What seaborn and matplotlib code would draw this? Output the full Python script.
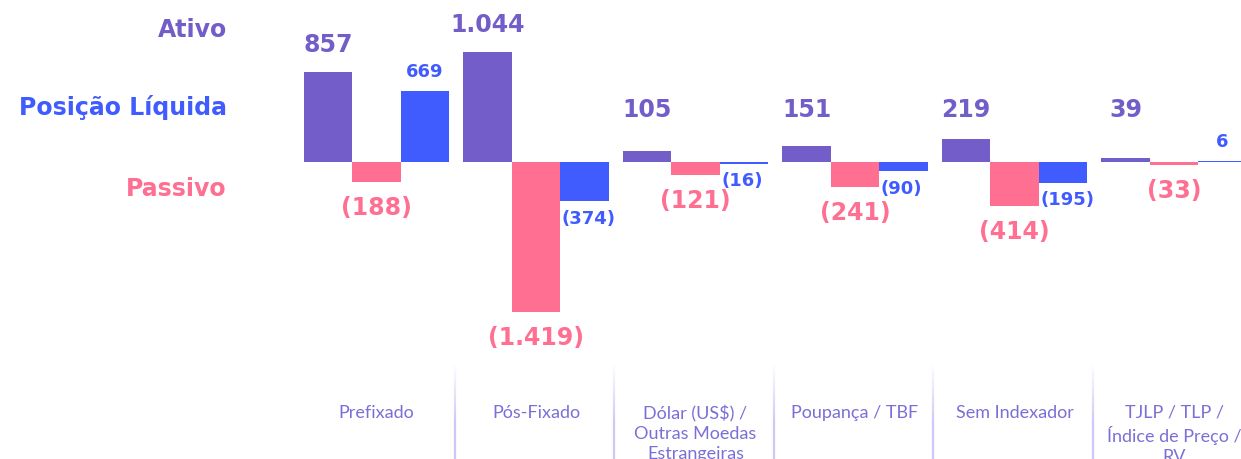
import pandas as pd
import numpy as np
import matplotlib.pyplot as plt
import seaborn as sns

categorias = ["Prefixado", "Pós-Fixado", "Dólar (US$) /\nOutras Moedas\nEstrangeiras",
              "Poupança / TBF", "Sem Indexador", "TJLP / TLP /\nÍndice de Preço /\nRV"]
ativo = [857, 1044, 105, 151, 219, 39]
passivo = [-188, -1419, -121, -241, -414, -33]
posicao = [669, -374, -16, -90, -195, 6]
series = ["Ativo", "Passivo", "Posição Líquida"]
cores = {"Ativo": "#735DC8", "Passivo": "#FF6F91", "Posição Líquida": "#405CFF"}

sns.set_style("white")
plt.rcParams['font.family'] = ['Lato', 'DejaVu Sans']
negrito = ['DejaVu Sans']

df = pd.DataFrame({
    "cat": list(range(6)) * 3,
    "serie": np.repeat(series, 6),
    "valor": ativo + passivo + posicao,
})

def fmt(v):
    s = f"{abs(v):,}".replace(",", ".")
    return f"({s})" if v < 0 else s

fig = plt.figure(figsize=(12.41, 4.59), dpi=100)
ax = fig.add_axes([0, 0, 1, 1])
sns.barplot(data=df, x="cat", y="valor", hue="serie", hue_order=series, palette=cores,
            width=0.91, saturation=1, legend=False, native_scale=True, linewidth=0, ax=ax)

px = 159.5
xmin = -376.5 / px
ax.set_xlim(xmin, xmin + 1241 / px)
k = 0.1055
ax.set_ylim(-(459 - 162) / k, 162 / k)
ax.axis("off")

# rotulos de valores
for j, cont in enumerate(ax.containers):
    for p, v in zip(cont.patches, [ativo, passivo, posicao][j]):
        xc = p.get_x() + p.get_width() / 2
        cor = cores[series[j]]
        if j == 0:
            ax.annotate(fmt(v), (xc, max(v, 237)), xytext=(0, 19.5), textcoords="offset points",
                        ha="center", va="center", fontsize=17, fontweight="bold", color=cor,
                        family=negrito)
        elif j == 1:
            ax.annotate(fmt(v), (xc, v), xytext=(0, -18.7), textcoords="offset points",
                        ha="center", va="center", fontsize=17, fontweight="bold", color=cor,
                        family=negrito)
        else:
            if v >= 0:
                ax.annotate(fmt(v), (xc, v), xytext=(0, 14), textcoords="offset points",
                            ha="center", va="center", fontsize=13, fontweight="bold", color=cor,
                            family=negrito)
            else:
                ax.annotate(fmt(v), (p.get_x(), v), xytext=(1, -12.5), textcoords="offset points",
                            ha="left", va="center", fontsize=13, fontweight="bold", color=cor,
                            family=negrito)

# categorias e separadores
trans = ax.get_xaxis_transform()
for i, c in enumerate(categorias):
    ax.text(i, 1 - 405 / 459, c, transform=trans, ha="center", va="top", fontsize=13,
            color="#7A6FD6", linespacing=1.3)
    if i < 5:
        n = 30
        ys = np.linspace(1 - 365 / 459, 0, n + 1)
        for s in range(n):
            a = min(1.0, (s + 1) / n * 1.6)
            ax.plot([i + 0.49, i + 0.49], [ys[s], ys[s + 1]], transform=trans,
                    color="#CFC8F6", alpha=a, lw=1.6, solid_capstyle="butt")

# legenda lateral
for nome, y in [("Ativo", 30), ("Posição Líquida", 107), ("Passivo", 189)]:
    fig.text(227 / 1241, 1 - y / 459, nome, ha="right", va="center", fontsize=17,
             fontweight="bold", color=cores[nome], family=negrito)

fig.savefig("out.png", dpi=100)
